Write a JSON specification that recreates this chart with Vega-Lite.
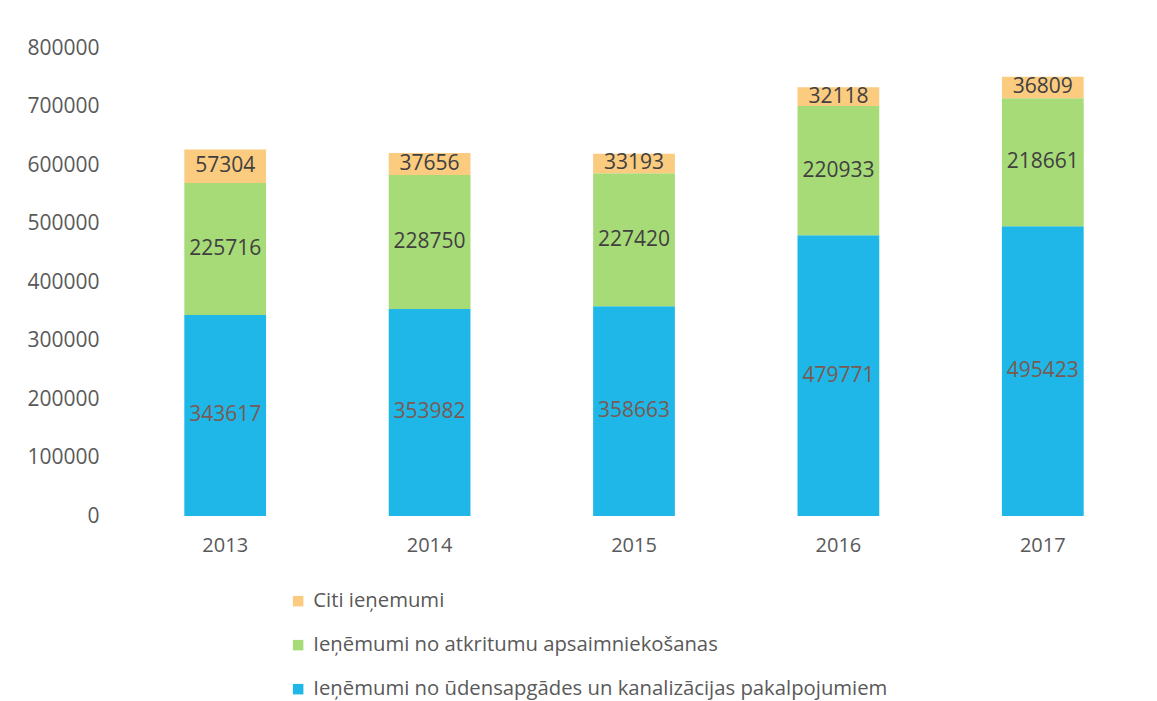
{
  "$schema": "https://vega.github.io/schema/vega-lite/v6.json",
  "autosize": {"type": "none"},
  "width": 1022,
  "height": 468,
  "padding": {"left": 123, "top": 48, "right": 12, "bottom": 185},
  "background": "#ffffff",
  "config": {
    "view": {"stroke": null},
    "font": "Open Sans"
  },
  "data": {
    "values": [
      {"year": "2013", "category": "Ieņēmumi no ūdensapgādes un kanalizācijas pakalpojumiem", "value": 343617},
      {"year": "2013", "category": "Ieņēmumi no atkritumu apsaimniekošanas", "value": 225716},
      {"year": "2013", "category": "Citi ieņemumi", "value": 57304},
      {"year": "2014", "category": "Ieņēmumi no ūdensapgādes un kanalizācijas pakalpojumiem", "value": 353982},
      {"year": "2014", "category": "Ieņēmumi no atkritumu apsaimniekošanas", "value": 228750},
      {"year": "2014", "category": "Citi ieņemumi", "value": 37656},
      {"year": "2015", "category": "Ieņēmumi no ūdensapgādes un kanalizācijas pakalpojumiem", "value": 358663},
      {"year": "2015", "category": "Ieņēmumi no atkritumu apsaimniekošanas", "value": 227420},
      {"year": "2015", "category": "Citi ieņemumi", "value": 33193},
      {"year": "2016", "category": "Ieņēmumi no ūdensapgādes un kanalizācijas pakalpojumiem", "value": 479771},
      {"year": "2016", "category": "Ieņēmumi no atkritumu apsaimniekošanas", "value": 220933},
      {"year": "2016", "category": "Citi ieņemumi", "value": 32118},
      {"year": "2017", "category": "Ieņēmumi no ūdensapgādes un kanalizācijas pakalpojumiem", "value": 495423},
      {"year": "2017", "category": "Ieņēmumi no atkritumu apsaimniekošanas", "value": 218661},
      {"year": "2017", "category": "Citi ieņemumi", "value": 36809}
    ]
  },
  "encoding": {
    "x": {
      "field": "year", "type": "nominal",
      "scale": {"paddingInner": 0.6, "paddingOuter": 0.3},
      "axis": {"title": null, "labelAngle": 0, "domain": false, "ticks": false, "labelFontSize": 20, "labelColor": "#595959", "labelPadding": 19, "labelFont": "Open Sans"}
    }
  },
  "layer": [
    {
      "mark": {"type": "bar"},
      "encoding": {
        "y": {
          "field": "value", "type": "quantitative", "stack": "zero",
          "scale": {"domain": [0, 800000], "nice": false},
          "axis": {"title": null, "values": [0,100000,200000,300000,400000,500000,600000,700000,800000], "labelOverlap": false, "format": "d", "grid": false, "domain": false, "ticks": false, "labelFontSize": 21, "labelColor": "#595959", "labelPadding": 24, "labelFont": "Open Sans"}
        },
        "order": {"field": "category", "sort": "descending"},
        "color": {
          "field": "category", "type": "nominal",
          "scale": {
            "domain": ["Citi ieņemumi", "Ieņēmumi no atkritumu apsaimniekošanas", "Ieņēmumi no ūdensapgādes un kanalizācijas pakalpojumiem"],
            "range": ["#FBCB80", "#A7DB78", "#1EB7E8"]
          },
          "legend": {
            "title": null, "orient": "none", "legendX": 165, "legendY": 543,
            "direction": "vertical", "symbolType": "square", "symbolSize": 110,
            "labelFontSize": 20.3, "labelColor": "#595959", "labelFont": "Open Sans",
            "rowPadding": 23, "labelOffset": 5, "symbolStrokeWidth": 0, "labelLimit": 800
          }
        }
      }
    },
    {
      "transform": [
        {"stack": "value", "groupby": ["year"], "sort": [{"field": "category", "order": "descending"}], "as": ["v0", "v1"]},
        {"calculate": "(datum.v0 + datum.v1) / 2", "as": "mid"}
      ],
      "mark": {"type": "text", "fontSize": 21, "font": "Open Sans", "baseline": "middle"},
      "encoding": {
        "y": {"field": "mid", "type": "quantitative"},
        "text": {"field": "value", "type": "quantitative", "format": "d"},
        "color": {
          "condition": {"test": "datum.category === 'Ieņēmumi no ūdensapgādes un kanalizācijas pakalpojumiem'", "value": "#7a5a52"},
          "value": "#404040"
        }
      }
    }
  ]
}
